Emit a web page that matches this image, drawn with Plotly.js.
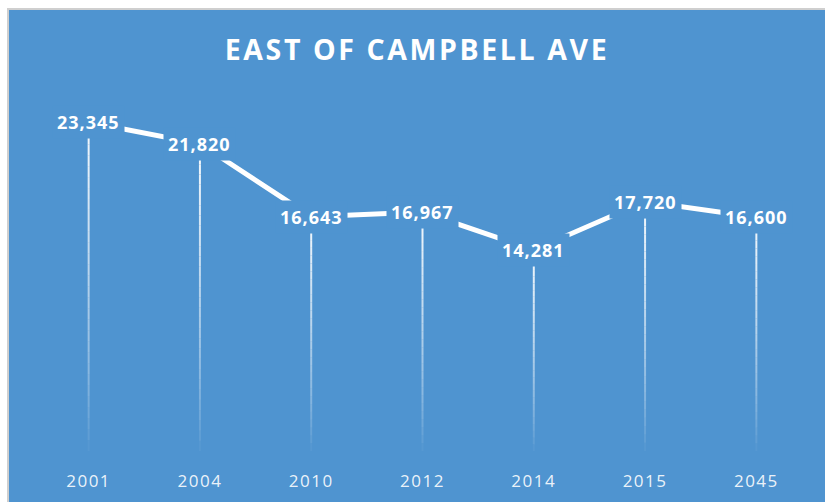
<!DOCTYPE html>
<html>
<head>
<meta charset="utf-8">
<script src="https://cdn.plot.ly/plotly-3.0.1.min.js"></script>
<style>
  html, body { margin: 0; padding: 0; background: #ffffff; width: 825px; height: 502px; overflow: hidden; }
  #frame { position: absolute; left: 7px; top: 8px; width: 818px; height: 494px; background: #cfcfcf; }
  #chart { position: absolute; left: 9px; top: 10px; width: 816px; height: 492px; }
  .gtitle { letter-spacing: 2.6px; }
  .xtick text { letter-spacing: 1.5px; }
  .annotation-text { letter-spacing: 1px; }
</style>
</head>
<body>
<div id="frame"></div>
<div id="chart"></div>
<script>
// ---- data ----
const years = ['2001', '2004', '2010', '2012', '2014', '2015', '2045'];
const volumes = [23345, 21820, 16643, 16967, 14281, 17720, 16600];
const chartTitle = 'EAST OF CAMPBELL AVE';

// ---- styling ----
const BG = '#4f94d0';
const fmt = v => v.toLocaleString('en-US');

// fading drop lines from each point to the baseline, built from the data
const shapes = [];
const STEPS = 30;
years.forEach((yr, i) => {
  const top = volumes[i];
  for (let s = 0; s < STEPS; s++) {
    const y1 = top * (1 - s / STEPS);
    const y0 = top * (1 - (s + 1) / STEPS);
    const frac = (y0 + y1) / 2 / top;
    shapes.push({
      type: 'line', xref: 'x', yref: 'y',
      x0: i, x1: i, y0: y0, y1: y1,
      line: { color: 'rgba(255,255,255,' + (0.95 * Math.pow(frac, 0.75)).toFixed(3) + ')', width: 2 },
      layer: 'below'
    });
  }
});

const annotations = years.map((yr, i) => ({
  x: i, y: volumes[i], xref: 'x', yref: 'y',
  text: fmt(volumes[i]),
  showarrow: false,
  font: { family: 'Open Sans, sans-serif', size: 18, color: '#ffffff', weight: 'bold' },
  bgcolor: BG,
  borderpad: 4,
  xanchor: 'center', yanchor: 'middle'
}));

const trace = {
  type: 'scatter', mode: 'lines',
  x: years.map((y, i) => i), y: volumes,
  line: { color: '#ffffff', width: 5 },
  hoverinfo: 'skip'
};

const layout = {
  width: 816, height: 492,
  paper_bgcolor: BG, plot_bgcolor: BG,
  margin: { l: 24, r: 13, t: 89, b: 51 },
  showlegend: false,
  title: {
    text: chartTitle,
    font: { family: 'Open Sans, sans-serif', size: 28.5, color: '#ffffff', weight: 'bold' },
    x: 0.5, xanchor: 'center', xref: 'container',
    y: 1 - 40 / 492, yanchor: 'middle', yref: 'container'
  },
  xaxis: {
    range: [-0.5, 6.5],
    tickmode: 'array', tickvals: years.map((y, i) => i), ticktext: years,
    showgrid: false, zeroline: false, showline: false, ticks: '',
    ticklabelstandoff: 18,
    tickfont: { family: 'Open Sans, sans-serif', size: 17, color: 'rgba(255,255,255,0.9)' },
    fixedrange: true
  },
  yaxis: {
    range: [0, 25000],
    showgrid: false, zeroline: false, showline: false, showticklabels: false, ticks: '',
    fixedrange: true
  },
  shapes: shapes,
  annotations: annotations
};

Plotly.newPlot('chart', [trace], layout, { displayModeBar: false, staticPlot: true });
</script>
</body>
</html>
